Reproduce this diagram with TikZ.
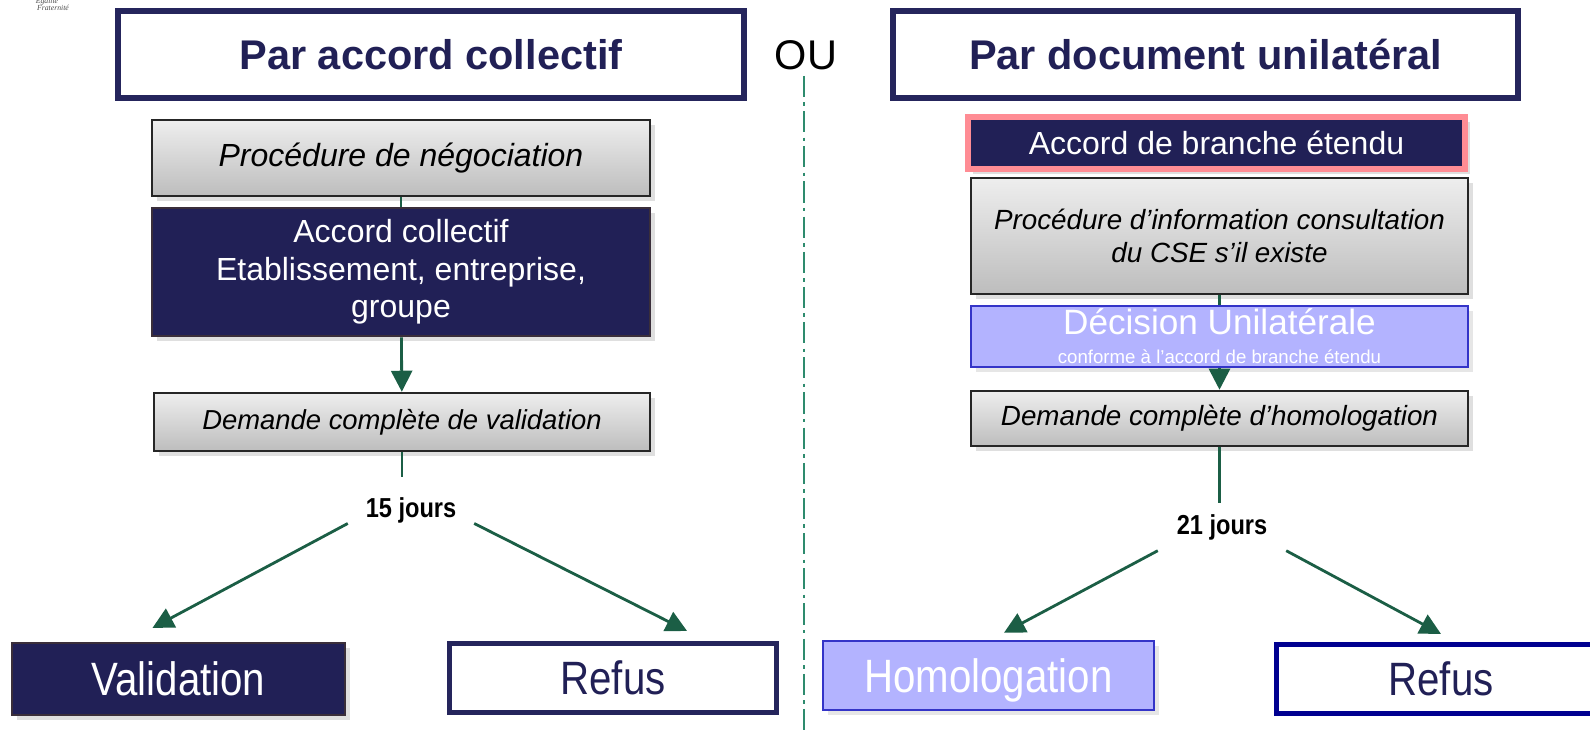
\documentclass[tikz,border=0pt]{standalone}
\usepackage{fontspec}
\setmainfont{Liberation Sans}
\newfontfamily\narrowsf[FakeStretch=0.86]{Liberation Sans}
\newfontfamily\logoserif{Liberation Serif}
\usetikzlibrary{arrows.meta,shadows}

\definecolor{navy}{HTML}{212056}
\definecolor{navyedge}{HTML}{3A2E3A}
\definecolor{titleblue}{HTML}{25255C}
\definecolor{pinkedge}{HTML}{FF8C94}
\definecolor{lilac}{HTML}{B3B3FF}
\definecolor{lilacedge}{HTML}{3434C8}
\definecolor{refusblue}{HTML}{000090}
\definecolor{graytop}{HTML}{EEEEEE}
\definecolor{graybot}{HTML}{BDBDBD}
\definecolor{linkgreen}{HTML}{1B5E45}
\definecolor{splitgreen}{HTML}{2E8B6E}

\tikzset{
  titlebox/.style={draw=titleblue, line width=0.06cm, fill=white, minimum width=6.25cm, minimum height=0.87cm, text=navy, font=\fontsize{11.8}{14}\selectfont\bfseries},
  graybox/.style={draw=black!85, line width=0.7pt, top color=graytop, bottom color=graybot, drop shadow={opacity=0.25, shadow xshift=0.05cm, shadow yshift=-0.05cm}, align=center, font=\itshape},
  darkbox/.style={draw=navyedge, line width=0.6pt, fill=navy, text=white, align=center, drop shadow={opacity=0.25, shadow xshift=0.05cm, shadow yshift=-0.05cm}},
  lilacbox/.style={draw=lilacedge, line width=0.7pt, fill=lilac, text=white, align=center, drop shadow={opacity=0.2, shadow xshift=0.05cm, shadow yshift=-0.05cm}},
  refusbox/.style={fill=white, line width=0.05cm, text=navy, font=\narrowsf\fontsize{13.3}{16}\selectfont},
  link/.style={draw=linkgreen, line width=0.6pt},
  arrow/.style={link, line width=0.8pt, -{Triangle[length=0.21cm, width=0.21cm]}},
  days/.style={inner sep=0pt, font=\narrowsf\fontsize{7.8}{9}\selectfont\bfseries}
}

\begin{document}
\begin{tikzpicture}[x=0.01cm, y=-0.01cm]
\useasboundingbox (0,0) rectangle (1590,731);
\clip (0,0) rectangle (1590,731);

\node (logoa) at (47,1) [inner sep=0pt, font=\logoserif\itshape\fontsize{2.2}{2.5}\selectfont, text=black!70] {Égalité};
\node (logob) at (53,7.5) [inner sep=0pt, font=\logoserif\itshape\fontsize{2.2}{2.5}\selectfont, text=black!70] {Fraternité};

\node (titleL) at (431,54.5) [titlebox] {Par accord collectif};
\node (titleR) at (1205.5,54.5) [titlebox] {Par document unilatéral};
\node (ou) at (806,55) [font=\fontsize{11.8}{14}\selectfont] {OU};
\coordinate (splittop) at (804,76);
\coordinate (splitbot) at (804,731);
\draw[splitgreen, line width=0.6pt, dash pattern=on 6pt off 1.5pt on 1pt off 1.5pt] (splittop) -- (splitbot);

% accord collectif
\node (negoc) at (401,158) [graybox, minimum width=4.98cm, minimum height=0.76cm, font=\itshape\fontsize{9.1}{11}\selectfont] {Procédure de négociation};
\node (accordC) at (401,272) [darkbox, minimum width=4.98cm, minimum height=1.26cm, font=\fontsize{9.1}{10.7}\selectfont] {Accord collectif\\Etablissement, entreprise,\\groupe};
\node (demVal) at (402,422) [graybox, minimum width=4.96cm, minimum height=0.58cm, font=\itshape\fontsize{7.8}{9}\selectfont] {Demande complète de validation};
\node (days15) at (411,510) [days, minimum width=1.25cm, minimum height=0.24cm] {15 jours};
\node (valid) at (178.5,679) [darkbox, minimum width=3.33cm, minimum height=0.72cm, font=\narrowsf\fontsize{13.3}{16}\selectfont] {Validation};
\node (refusL) at (613,678) [refusbox, draw=titleblue, minimum width=3.27cm, minimum height=0.69cm] {Refus};

\draw[link] (negoc) -- (accordC);
\draw[arrow] (accordC) -- (demVal);
\draw[link, shorten >=0.19cm] (demVal) -- (demVal |- days15.north);
\draw[arrow] (days15.south west) -- ([xshift=-0.26cm, yshift=0.14cm]valid.north);
\draw[arrow] (days15.south east) -- ([xshift=0.74cm, yshift=0.1cm]refusL.north);

% document unilateral
\node (branche) at (1216.5,143) [darkbox, draw=pinkedge, line width=0.055cm, minimum width=4.97cm, minimum height=0.52cm, font=\fontsize{9.1}{11}\selectfont] {Accord de branche étendu};
\node (procInfo) at (1219.5,236) [graybox, minimum width=4.97cm, minimum height=1.16cm, font=\itshape\fontsize{7.9}{9.6}\selectfont] {Procédure d’information consultation\\du CSE s’il existe};
\node (decision) at (1219.5,336.5) [lilacbox, inner ysep=0.5pt, minimum width=4.97cm, minimum height=0.61cm, font=\fontsize{10}{8.3}\selectfont] {Décision Unilatérale\\{\fontsize{5.3}{6}\selectfont conforme à l’accord de branche étendu}};
\node (demHom) at (1219.5,418.5) [graybox, minimum width=4.97cm, minimum height=0.55cm, font=\itshape\fontsize{7.9}{9}\selectfont] {Demande complète d’homologation};
\node (days21) at (1222,527) [days, minimum width=1.27cm, minimum height=0.46cm] {21 jours};
\node (homol) at (988.5,675.5) [lilacbox, text depth=0pt, minimum width=3.31cm, minimum height=0.69cm, font=\narrowsf\fontsize{13.3}{16}\selectfont] {Homologation};
\node (refusR) at (1441,679) [refusbox, draw=refusblue, minimum width=3.29cm, minimum height=0.69cm] {Refus};

\draw[link] (procInfo) -- (decision);
\draw[arrow] (decision) -- (demHom);
\draw[link] (demHom) -- (demHom |- days21.north);
\draw[arrow] (days21.south west) -- ([xshift=0.155cm, yshift=0.07cm]homol.north);
\draw[arrow] (days21.south east) -- ([yshift=0.08cm]refusR.north);
\end{tikzpicture}
\end{document}
